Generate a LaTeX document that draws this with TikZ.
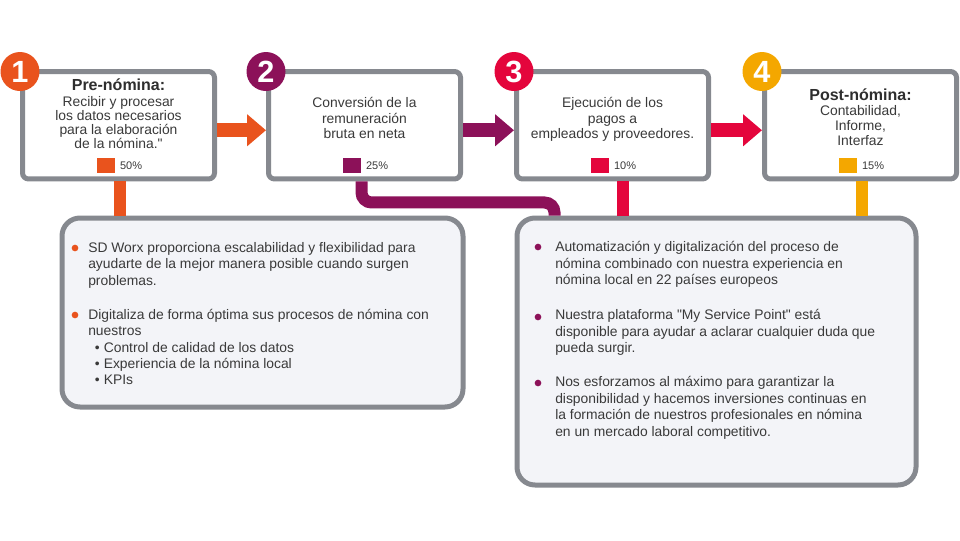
\documentclass[tikz,border=0pt]{standalone}
\usepackage{fontspec}
\setmainfont{Liberation Sans}
\usepackage{xcolor}
\definecolor{steporg}{HTML}{E9531D}
\definecolor{steppurple}{HTML}{8C1159}
\definecolor{stepred}{HTML}{E4053C}
\definecolor{stepamber}{HTML}{F4A700}
\definecolor{framegray}{HTML}{86898F}
\definecolor{panelfill}{HTML}{F3F4F8}
\definecolor{bodytext}{HTML}{3A3A3A}
\usepackage{tikz}
\usetikzlibrary{arrows.meta,positioning,calc}

\begin{document}
\begin{tikzpicture}[x=0.75pt,y=-0.75pt,
  stepbox/.style={draw=framegray,line width=3.75pt,fill=white,rounded corners=4.5pt,minimum width=144pt,minimum height=80.6pt,inner sep=0pt},
  panel/.style={draw=framegray,line width=3.75pt,fill=panelfill,rounded corners=13.5pt,inner sep=0pt},
  stepnum/.style={circle,fill=#1,text=white,minimum size=29.25pt,inner sep=0pt,font=\fontsize{23pt}{23pt}\bfseries},
  swatch/.style={fill=#1,minimum width=13.5pt,minimum height=11.25pt,inner sep=0pt},
  pct/.style={font=\fontsize{8.25pt}{9pt}\selectfont,text=bodytext,inner sep=0pt,anchor=west},
  flow/.style={draw=#1,line width=10.5pt,-{Triangle[length=14.25pt,width=23.25pt]}},
  link/.style={draw=#1,line width=9pt},
  boxtext/.style={align=center,text=bodytext,inner sep=0pt,anchor=base},
  boxhead/.style={text=bodytext!80!black,inner sep=0pt,anchor=base,font=\fontsize{12pt}{14pt}\bfseries},
  listtext/.style={align=left,text=bodytext,inner sep=0pt,anchor=base west,font=\fontsize{10.4pt}{#1}\selectfont}]
  \useasboundingbox (0,0) rectangle (960,540);

  \node[stepbox] (b1) at (118.5,125.25) {};
  \node[stepbox] (b2) at (364.5,125.25) {};
  \node[stepbox] (b3) at (612.5,125.25) {};
  \node[stepbox] (b4) at (860.5,125.25) {};
  \node[panel,minimum width=300.75pt,minimum height=141.75pt] (n1) at (262.5,312.5) {};
  \node[panel,minimum width=299.25pt,minimum height=200.25pt] (n2) at (716.5,351.5) {};

  \node[stepnum=steporg] (c1) at ($(b1.north west)+(0,2.5)$) {1};
  \node[stepnum=steppurple] (c2) at ($(b2.north west)+(0,2.5)$) {2};
  \node[stepnum=stepred] (c3) at ($(b3.north west)+(0,2.5)$) {3};
  \node[stepnum=stepamber] (c4) at ($(b4.north west)+(0,2.5)$) {4};

  \draw[flow=steporg] ($(b1.east)+(0,5)$) -- ($(b2.west)+(0,5)$);
  \draw[flow=steppurple] ($(b2.east)+(0,5)$) -- ($(b3.west)+(0,5)$);
  \draw[flow=stepred] ($(b3.east)+(0,5)$) -- ($(b4.west)+(0,5)$);

  \coordinate (o1) at ($(b1.south)+(1,0)$);
  \coordinate (o2) at ($(b2.south)+(-3,0)$);
  \coordinate (o2e) at ($(n2.north west)+(40,0)$);
  \coordinate (o3) at ($(b3.south)+(10.5,0)$);
  \coordinate (o4) at ($(b4.south)+(1,0)$);
  \draw[link=steporg] (o1) -- (o1 |- n1.north);
  \draw[link=steppurple,rounded corners=7.5pt] (o2) -- ++(0,21) -| (o2e);
  \draw[link=stepred] (o3) -- (o3 |- n2.north);
  \draw[link=stepamber] (o4) -- (o4 |- n2.north);

  \node[boxhead] (h1) at (118.5,90.5) {Pre-nómina:};
  \node[boxtext,font=\fontsize{10.4pt}{10.5pt}\selectfont] (t1) at (118.5,148.5) {Recibir y procesar\\los datos necesarios\\para la elaboración\\de la nómina.\textquotedbl};
  \node[boxtext,font=\fontsize{10.4pt}{11.6pt}\selectfont] (t2) at (364.5,138.5) {Conversión de la\\remuneración\\bruta en neta};
  \node[boxtext,font=\fontsize{10.4pt}{11.6pt}\selectfont] (t3) at (612.5,138.5) {Ejecución de los\\pagos a\\empleados y proveedores.};
  \node[boxhead] (h4) at (860.5,100.5) {Post-nómina:};
  \node[boxtext,font=\fontsize{10.4pt}{11.25pt}\selectfont] (t4) at (860.5,145.5) {Contabilidad,\\Informe,\\Interfaz};

  \node[swatch=steporg] (s1) at ($(b1.center)+(-13,40.25)$) {};
  \node[pct,right=3.75pt of s1] (p1) {50\%};
  \node[swatch=steppurple] (s2) at ($(b2.center)+(-13,40.25)$) {};
  \node[pct,right=3.75pt of s2] (p2) {25\%};
  \node[swatch=stepred] (s3) at ($(b3.center)+(-13,40.25)$) {};
  \node[pct,right=3.75pt of s3] (p3) {10\%};
  \node[swatch=stepamber] (s4) at ($(b4.center)+(-13,40.25)$) {};
  \node[pct,right=3.75pt of s4] (p4) {15\%};

  \fill[steporg] (75,248) circle (2.5pt);
  \fill[steporg] (75,315) circle (2.5pt);
  \node[listtext=12.2pt] (l1) at (88,285) {SD Worx proporciona escalabilidad y flexibilidad para\\ayudarte de la mejor manera posible cuando surgen\\problemas.};
  \node[listtext=12.2pt] (l2) at (88,384.6) {Digitaliza de forma óptima sus procesos de nómina con\\nuestros\\\hspace*{5pt}•\hspace{3pt}Control de calidad de los datos\\\hspace*{5pt}•\hspace{3pt}Experiencia de la nómina local\\\hspace*{5pt}•\hspace{3pt}KPIs};

  \fill[steppurple] (538,247) circle (2.5pt);
  \fill[steppurple] (538,317) circle (2.5pt);
  \fill[steppurple] (538,383) circle (2.5pt);
  \node[listtext=12.5pt] (r1) at (555,284.9) {Automatización y digitalización del proceso de\\nómina combinado con nuestra experiencia en\\nómina local en 22 países europeos};
  \node[listtext=12.5pt] (r2) at (555,352.9) {Nuestra plataforma \textquotedbl My Service Point\textquotedbl\ está\\disponible para ayudar a aclarar cualquier duda que\\pueda surgir.};
  \node[listtext=12.5pt] (r3) at (555,436.6) {Nos esforzamos al máximo para garantizar la\\disponibilidad y hacemos inversiones continuas en\\la formación de nuestros profesionales en nómina\\en un mercado laboral competitivo.};
\end{tikzpicture}
\end{document}
